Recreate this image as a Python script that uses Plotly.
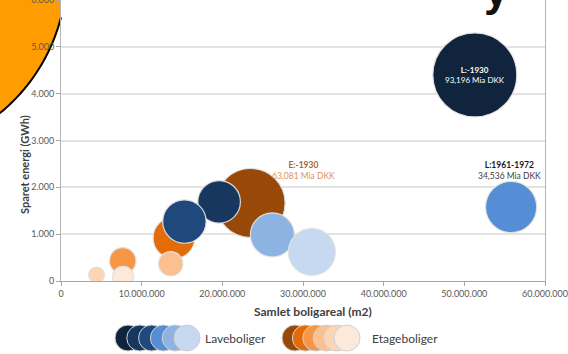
import numpy as np
import plotly.graph_objects as go

# Laveboliger (low-rise housing) by construction period
lave_names = ["L:-1930", "L:1931-1950", "L:1951-1960", "L:1961-1972", "L:1973-1998", "L:1999-"]
lave_area = [51_300_000, 19_600_000, 15_300_000, 55_800_000, 26_200_000, 31_100_000]
lave_energy = [4400, 1690, 1270, 1580, 985, 620]
lave_value = [93.196, 24.0, 24.9, 34.536, 25.6, 29.2]
lave_colors = ["#10243e", "#17375e", "#1f497d", "#558ed5", "#8db3e2", "#c6d9f1"]

# Etageboliger (apartment blocks) by construction period
etage_names = ["E:-1930", "E:1931-1950", "E:1951-1960", "E:1961-1972", "E:1973-1998", "E:1999-"]
etage_area = [23_500_000, 14_000_000, 7_650_000, 13_600_000, 4_400_000, 7_700_000]
etage_energy = [1665, 920, 430, 367, 128, 85]
etage_value = [63.081, 22.9, 9.35, 7.86, 3.38, 6.05]
etage_colors = ["#984807", "#e36c09", "#f79646", "#fac090", "#fcd5b5", "#fde9d9"]

x_ticks = [0, 10_000_000, 20_000_000, 30_000_000, 40_000_000, 50_000_000, 60_000_000]
y_ticks = [0, 1000, 2000, 3000, 4000, 5000, 6000]

W, H = 568, 354
ML, MR, MT, MB = 61, 23, 0, 73
PW, PH = W - ML - MR, H - MT - MB


def px(x):
    return (x - ML) / PW


def py(y):
    return (MT + PH - y) / PH


FONT = "Lato, 'Open Sans', sans-serif"
BIG_D = 84  # pixel diameter of the largest bubble
sizeref = 2.0 * max(lave_value + etage_value) / BIG_D ** 2

fig = go.Figure()


def add_bubbles(names, xs, ys, vals, colors):
    for name, x, y, v, c in zip(names, xs, ys, vals, colors):
        fig.add_trace(go.Scatter(
            x=[x], y=[y], name=name, mode="markers",
            marker=dict(size=[v], sizemode="area", sizeref=sizeref, color=c, opacity=1,
                        line=dict(color="rgba(225,225,225,0.95)", width=1.2)),
        ))


add_bubbles(etage_names, etage_area, etage_energy, etage_value, etage_colors)
add_bubbles(lave_names, lave_area, lave_energy, lave_value, lave_colors)


def mia(v):
    return f"{v:.3f}".replace(".", ",") + " Mia DKK"


annotations = []
# value labels for the highlighted bubbles
annotations.append(dict(
    x=lave_area[0], y=lave_energy[0], xref="x", yref="y", showarrow=False,
    xanchor="center", yanchor="middle",
    text=f"<b>{lave_names[0]}</b><br>{mia(lave_value[0])}",
    font=dict(family=FONT, size=8, color="white"), align="center"))
annotations.append(dict(
    x=lave_area[3], y=lave_energy[3], xref="x", yref="y", showarrow=False,
    xanchor="center", yanchor="middle", xshift=-2, yshift=37,
    text=f"<b>{lave_names[3]}</b><br><span style='color:#404040'>{mia(lave_value[3])}</span>",
    font=dict(family=FONT, size=8.5, color="#1a1a1a"), align="center"))
annotations.append(dict(
    x=etage_area[0], y=etage_energy[0], xref="x", yref="y", showarrow=False,
    xanchor="center", yanchor="middle", xshift=53, yshift=33,
    text=f"<b>{etage_names[0]}</b><br><span style='color:#d9955a'>{mia(etage_value[0])}</span>",
    font=dict(family=FONT, size=8.5, color="#b0632a"), align="center"))

# axis titles
annotations.append(dict(
    x=px(24), y=py(165), xref="paper", yref="paper", showarrow=False, textangle=-90,
    xanchor="center", yanchor="middle",
    text="<b>Sparet energi (GWh)</b>", font=dict(family=FONT, size=11, color="#404040")))
annotations.append(dict(
    x=px(313), y=py(311), xref="paper", yref="paper", showarrow=False,
    xanchor="center", yanchor="middle",
    text="<b>Samlet boligareal (m2)</b>", font=dict(family=FONT, size=12, color="#404040")))

# legend texts
annotations.append(dict(
    x=px(203), y=py(338), xref="paper", yref="paper", showarrow=False,
    xanchor="left", yanchor="middle",
    text="Laveboliger", font=dict(family=FONT, size=12, color="#404040")))
annotations.append(dict(
    x=px(370), y=py(338), xref="paper", yref="paper", showarrow=False,
    xanchor="left", yanchor="middle",
    text="Etageboliger", font=dict(family=FONT, size=12, color="#404040")))

# slide title descender peeking in at the top
annotations.append(dict(
    x=px(496), y=py(17), xref="paper", yref="paper", showarrow=False,
    xanchor="center", yanchor="bottom",
    text="<b>y</b>", font=dict(family="Liberation Sans", size=44, color="#111111")))

shapes = []
# orange slide decoration in the upper-left corner
cx, cy, R = -115.2, -27.6, 181.8
t = np.linspace(np.arccos((ML - cx) / R), np.arccos((-6 - cx) / R), 60)
ax = cx + R * np.cos(t)
ay = cy + R * np.sin(t)
fill = f"M {px(-6)},{py(-6)} L {px(ML)},{py(-6)} "
fill += " ".join(f"L {px(a)},{py(b)}" for a, b in zip(ax, ay)) + " Z"
shapes.append(dict(type="path", xref="paper", yref="paper", path=fill,
                   fillcolor="#ff9c00", line=dict(width=0), layer="below"))
arc = f"M {px(ax[0])},{py(ay[0])} " + " ".join(f"L {px(a)},{py(b)}" for a, b in zip(ax[1:], ay[1:]))
shapes.append(dict(type="path", xref="paper", yref="paper", path=arc,
                   line=dict(color="black", width=2), layer="below"))

# legend keys: overlapping circles in the series colours
r = 13
for i, c in enumerate(lave_colors):
    x0 = 128 + 11.8 * i
    shapes.append(dict(type="circle", xref="paper", yref="paper",
                       x0=px(x0 - r), x1=px(x0 + r), y0=py(338 + r), y1=py(338 - r),
                       fillcolor=c, line=dict(color="#d0d0d0", width=1)))
for i, c in enumerate(etage_colors):
    x0 = 295 + 10.4 * i
    shapes.append(dict(type="circle", xref="paper", yref="paper",
                       x0=px(x0 - r), x1=px(x0 + r), y0=py(338 + r), y1=py(338 - r),
                       fillcolor=c, line=dict(color="#d0d0d0", width=1)))

fig.update_layout(
    width=W, height=H,
    margin=dict(l=ML, r=MR, t=MT, b=MB, autoexpand=False),
    paper_bgcolor="white", plot_bgcolor="white",
    separators=",.",
    showlegend=False,
    font=dict(family=FONT, color="#595959"),
    annotations=annotations,
    shapes=shapes,
)
fig.update_xaxes(
    range=[0, 60_000_000], tickvals=x_ticks, tickformat=",d",
    showgrid=False, zeroline=False, automargin=False,
    showline=True, linecolor="#a6a6a6", linewidth=1,
    ticks="outside", ticklen=4, tickcolor="#a6a6a6",
    tickfont=dict(family=FONT, size=9, color="#595959"),
    ticklabeloverflow="allow",
)
fig.update_yaxes(
    range=[0, 6000], tickvals=y_ticks, tickformat=",d",
    showgrid=True, gridcolor="#e3e3e3", gridwidth=1.5, zeroline=False, automargin=False,
    showline=True, mirror=True, linecolor="#b5b5b5", linewidth=1,
    ticks="outside", ticklen=4, tickcolor="#a6a6a6",
    tickfont=dict(family=FONT, size=9, color="#595959"),
    ticklabeloverflow="allow",
)

fig.write_html("out.html")
